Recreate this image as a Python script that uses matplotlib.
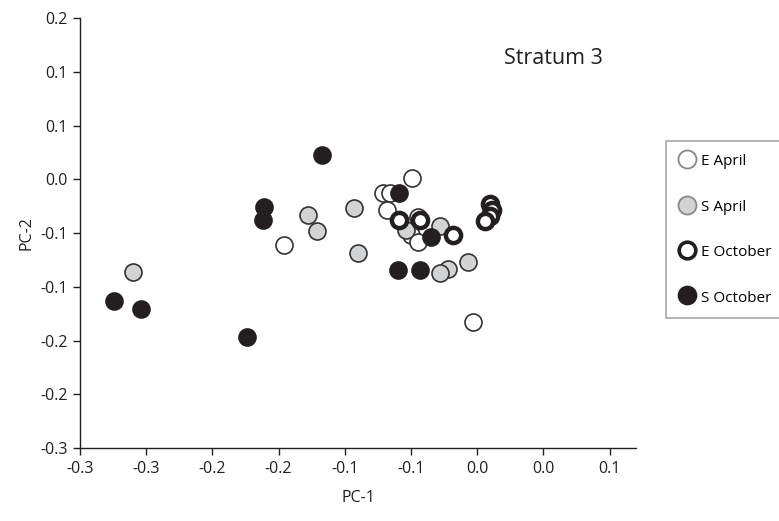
import numpy as np
import matplotlib
matplotlib.use("Agg")
from matplotlib import pyplot as plt
from matplotlib.lines import Line2D

plt.rcParams['font.family'] = ['Open Sans', 'DejaVu Sans']

# PCA scores
e_april_x = [-0.146, -0.049, -0.071, -0.066, -0.068, -0.045, -0.050, -0.045, -0.003]
e_april_y = [-0.061, 0.001, -0.013, -0.013, -0.029, -0.035, -0.052, -0.058, -0.133]

s_april_x = [-0.260, -0.128, -0.121, -0.093, -0.090, -0.028, -0.054, -0.022, -0.028, -0.007]
s_april_y = [-0.086, -0.033, -0.048, -0.027, -0.069, -0.043, -0.047, -0.083, -0.087, -0.077]

s_oct_x = [-0.274, -0.254, -0.174, -0.161, -0.162, -0.117, -0.059, -0.035, -0.060, -0.043]
s_oct_y = [-0.113, -0.121, -0.147, -0.026, -0.038, 0.023, -0.013, -0.054, -0.084, -0.084]

e_oct_x = [-0.059, -0.043, -0.018, 0.010, 0.011, 0.010, 0.006]
e_oct_y = [-0.038, -0.038, -0.052, -0.023, -0.029, -0.034, -0.039]

xticks = [-0.3, -0.25, -0.2, -0.15, -0.1, -0.05, 0.0, 0.05, 0.1]
xlabels = ['-0.3', '-0.3', '-0.2', '-0.2', '-0.1', '-0.1', '0.0', '0.0', '0.1']
yticks = [-0.25, -0.2, -0.15, -0.1, -0.05, 0.0, 0.05, 0.1, 0.15]
ylabels = ['-0.3', '-0.2', '-0.2', '-0.1', '-0.1', '0.0', '0.1', '0.1', '0.2']

fig = plt.figure(figsize=(7.79, 5.21), dpi=100)
ax = fig.add_axes([0.1027, 0.140, 0.7137, 0.8253])

ms = 150
ax.scatter(e_april_x, e_april_y, s=ms, facecolor='white', edgecolor='#333333', linewidth=1.2, zorder=2)
ax.scatter(s_april_x, s_april_y, s=ms, facecolor='#d2d3d5', edgecolor='#333333', linewidth=1.2, zorder=3)
ax.scatter(s_oct_x, s_oct_y, s=ms, facecolor='#231f20', edgecolor='#231f20', linewidth=1.2, zorder=4)
ax.scatter(e_oct_x, e_oct_y, s=ms * 0.8, facecolor='white', edgecolor='#231f20', linewidth=3.2, zorder=5)

ax.set_xlim(-0.3, 0.12)
ax.set_ylim(-0.25, 0.15)
ax.set_xticks(xticks)
ax.set_xticklabels(xlabels)
ax.set_yticks(yticks)
ax.set_yticklabels(ylabels)
ax.tick_params(direction='out', length=5, width=1, labelsize=11.5, colors='#231f20', pad=4)
for s in ['top', 'right']:
    ax.spines[s].set_visible(False)
for s in ['left', 'bottom']:
    ax.spines[s].set_color('#231f20')
    ax.spines[s].set_linewidth(1)

ax.set_xlabel('PC-1', fontsize=11.5, labelpad=10, color='#231f20')
ax.set_ylabel('PC-2', fontsize=11.5, labelpad=4, color='#231f20')

ax.text(0.851, 0.907, 'Stratum 3', transform=ax.transAxes, ha='center', va='center',
        fontsize=15.5, color='#231f20')

handles = [
    Line2D([], [], marker='o', linestyle='none', markersize=13, markerfacecolor='white',
           markeredgecolor='#888888', markeredgewidth=1.3),
    Line2D([], [], marker='o', linestyle='none', markersize=13, markerfacecolor='#d2d3d5',
           markeredgecolor='#888888', markeredgewidth=1.3),
    Line2D([], [], marker='o', linestyle='none', markersize=12, markerfacecolor='white',
           markeredgecolor='#231f20', markeredgewidth=2.6),
    Line2D([], [], marker='o', linestyle='none', markersize=13, markerfacecolor='#231f20',
           markeredgecolor='#231f20', markeredgewidth=1.2),
]
leg = fig.legend(handles, ['E April', 'S April', 'E October', 'S October'],
                 loc='upper left', bbox_to_anchor=(666 / 779, 1 - 141 / 521),
                 frameon=True, fancybox=False, fontsize=11, labelspacing=1.92,
                 handletextpad=0.4, handlelength=1.1, borderpad=0.8, borderaxespad=0,
                 handleheight=1.0)
leg.get_frame().set_edgecolor('#999999')
leg.get_frame().set_linewidth(1.3)

fig.savefig('out.png', dpi=100)
